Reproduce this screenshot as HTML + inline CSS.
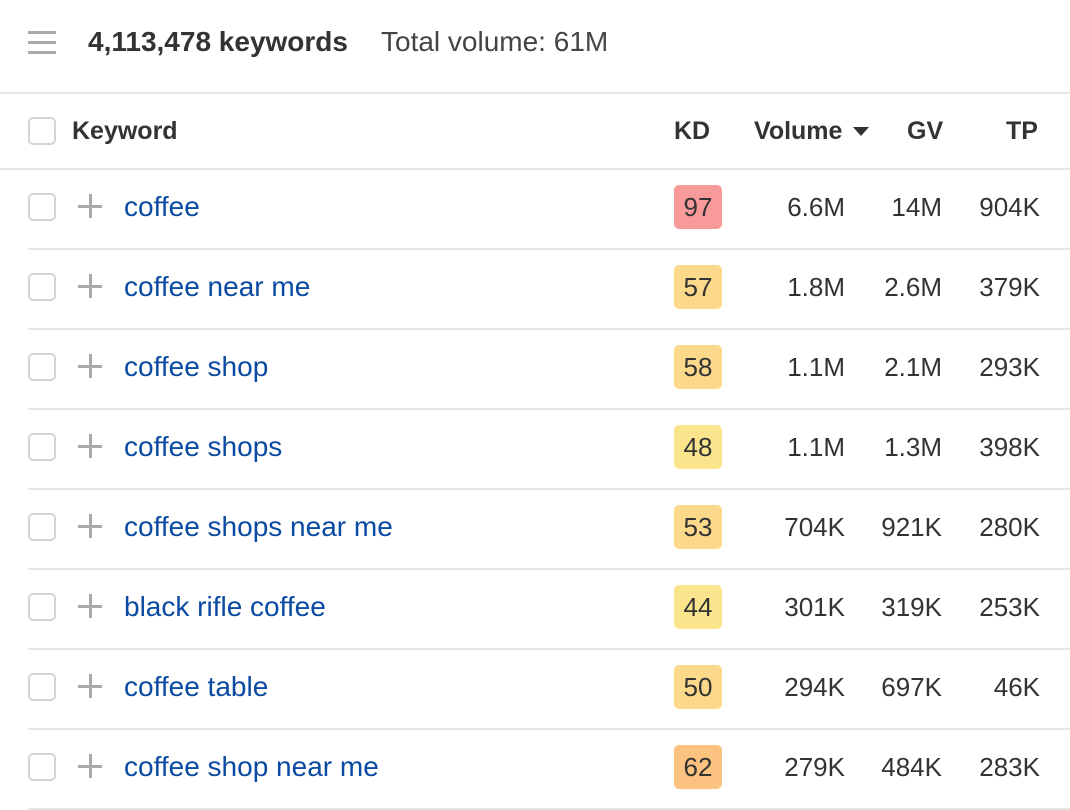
<!DOCTYPE html>
<html><head><style>
*{margin:0;padding:0;box-sizing:border-box}
body{width:1070px;height:810px;background:#fff;font-family:"Liberation Sans",Arial,sans-serif;color:#333;position:relative;overflow:hidden}
.abs{position:absolute;white-space:nowrap}
.ham{position:absolute;left:28px;width:28px;height:3px;background:#aaa}
.line{position:absolute;height:2px;background:#e6e6e6}
.cb{position:absolute;left:28px;width:28px;height:28px;border:2px solid #d4d4d4;border-radius:5px;background:#fff}
.plus{position:absolute;left:78px;width:24px;height:24px}
.plus:before{content:"";position:absolute;left:0;top:11px;width:24px;height:3px;background:#aaa}
.plus:after{content:"";position:absolute;left:11px;top:0;width:3px;height:24px;background:#aaa}
.kw{position:absolute;left:124px;font-size:28px;color:#0b4aa2;white-space:nowrap}
.kd{position:absolute;left:674px;width:48px;height:44px;border-radius:5px;font-size:26px;text-align:center;line-height:44px;color:#333}
.num{position:absolute;font-size:26px;text-align:right;width:120px}
.h{position:absolute;font-size:25px;font-weight:bold;color:#333}
</style></head><body>
<div class="ham" style="top:31px"></div><div class="ham" style="top:41px"></div><div class="ham" style="top:51px"></div>
<div class="abs" style="left:88px;top:26px;font-size:28px;font-weight:bold">4,113,478 keywords</div>
<div class="abs" style="left:381px;top:26px;font-size:28px;color:#444">Total volume: 61M</div>
<div class="line" style="left:0;width:1070px;top:92px"></div>
<div class="cb" style="top:117px"></div>
<div class="h" style="left:72px;top:117px">Keyword</div>
<div class="h" style="left:674px;top:117px">KD</div>
<div class="h" style="left:754px;top:117px">Volume</div>
<svg class="abs" style="left:853px;top:127px" width="16" height="10"><polygon points="0,0 16,0 8,9" fill="#333"/></svg>
<div class="h" style="left:907px;top:117px">GV</div>
<div class="h" style="left:1006px;top:117px">TP</div>
<div class="line" style="left:0;width:1070px;top:168px"></div>
<div id="rows"></div>
<script>
var d=[["coffee","97","#f99a9a","6.6M","14M","904K"],["coffee near me","57","#fcd98a","1.8M","2.6M","379K"],["coffee shop","58","#fcd98a","1.1M","2.1M","293K"],["coffee shops","48","#fbe58c","1.1M","1.3M","398K"],["coffee shops near me","53","#fcd98a","704K","921K","280K"],["black rifle coffee","44","#fbe58c","301K","319K","253K"],["coffee table","50","#fcd98a","294K","697K","46K"],["coffee shop near me","62","#fcc27f","279K","484K","283K"]];
var h="";
d.forEach(function(r,i){var c=207+80*i;
h+='<div class="cb" style="top:'+(c-14)+'px"></div><div class="plus" style="top:'+(c-13)+'px"></div>';
h+='<div class="kw" style="top:'+(c-16)+'px">'+r[0]+'</div>';
h+='<div class="kd" style="top:'+(c-22)+'px;background:'+r[2]+'">'+r[1]+'</div>';
h+='<div class="num" style="left:725px;top:'+(c-15)+'px">'+r[3]+'</div>';
h+='<div class="num" style="left:822px;top:'+(c-15)+'px">'+r[4]+'</div>';
h+='<div class="num" style="left:920px;top:'+(c-15)+'px">'+r[5]+'</div>';
h+='<div class="line" style="left:28px;width:1042px;top:'+(c+41)+'px"></div>';});
document.getElementById("rows").innerHTML=h;
</script>
</body></html>
